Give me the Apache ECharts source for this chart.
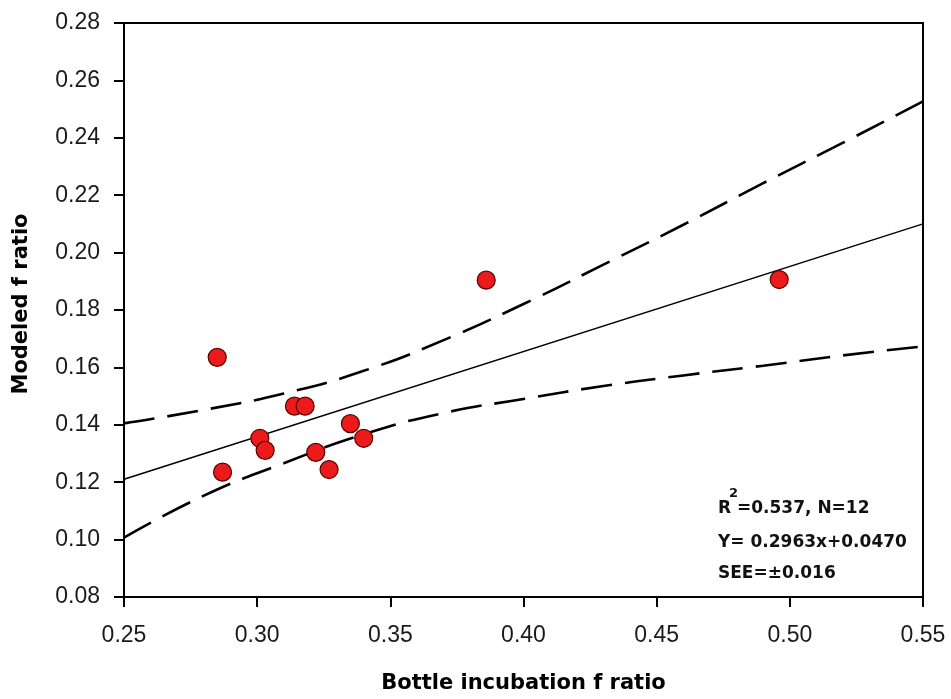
<!DOCTYPE html>
<html>
<head>
<meta charset="utf-8">
<script src="https://cdn.jsdelivr.net/npm/echarts@6/dist/echarts.min.js"></script>
<style>
html,body{margin:0;padding:0;background:#fff;}
#chart{width:951px;height:699px;}
</style>
</head>
<body>
<div id="chart"></div>
<script>
// Observed points
var obsX = [0.285, 0.287, 0.301, 0.303, 0.314, 0.318, 0.322, 0.327, 0.335, 0.340, 0.386, 0.496];
var modY = [0.1635, 0.1235, 0.1353, 0.1311, 0.1465, 0.1465, 0.1304, 0.1244, 0.1404, 0.1353, 0.1904, 0.1906];

// Regression line (read at the axis ends)
var regX = [0.25, 0.55];
var regY = [0.121, 0.210];

// Upper confidence band
var upX = [0.25, 0.28, 0.31, 0.34, 0.37, 0.40, 0.43, 0.46, 0.49, 0.52, 0.55];
var upY = [0.1405, 0.1452, 0.1509, 0.1588, 0.1695, 0.1821, 0.1958, 0.2097, 0.2242, 0.2383, 0.2527];

// Lower confidence band
var loX = [0.25, 0.28, 0.31, 0.34, 0.37, 0.40, 0.43, 0.46, 0.49, 0.52, 0.55];
var loY = [0.1007, 0.1153, 0.1266, 0.1367, 0.1441, 0.1490, 0.1535, 0.1572, 0.1606, 0.1642, 0.1673];

// Axis ticks
var xMin = 0.25, xMax = 0.55, xStep = 0.05;
var yMin = 0.08, yMax = 0.28, yStep = 0.02;

var annR = 'R';
var annSup = '2';
var annR2 = '=0.537, N=12';
var annEq = 'Y= 0.2963x+0.0470';
var annSee = 'SEE=\u00b10.016';

function pairs(xs, ys){ return xs.map(function(x,i){ return [x, ys[i]]; }); }

var chart = echarts.init(document.getElementById('chart'), null, {renderer:'canvas'});
var tickFont = {fontFamily:'Liberation Sans, Arial, sans-serif', fontSize:23, color:'#1a1a1a'};
var boldFont = 'DejaVu Sans, sans-serif';

chart.setOption({
  animation:false,
  backgroundColor:'#ffffff',
  grid:{left:124, right:28, top:23, bottom:100, show:true, borderColor:'#000', borderWidth:2, backgroundColor:'transparent'},
  xAxis:{
    type:'value', min:xMin, max:xMax, interval:xStep,
    name:'Bottle incubation f ratio', nameLocation:'middle', nameGap:76,
    nameTextStyle:{fontFamily:boldFont, fontWeight:'bold', fontSize:21, color:'#000'},
    axisLine:{show:true, onZero:false, lineStyle:{color:'#000', width:2}},
    axisTick:{show:true, inside:false, length:10, lineStyle:{color:'#000', width:2}},
    axisLabel:Object.assign({margin:27, formatter:function(v){return v.toFixed(2);}}, tickFont),
    splitLine:{show:false}
  },
  yAxis:{
    type:'value', min:yMin, max:yMax, interval:yStep,
    name:'Modeled f ratio', nameLocation:'middle', nameGap:92,
    nameTextStyle:{fontFamily:boldFont, fontWeight:'bold', fontSize:21, color:'#000', padding:[0,0,0,12]},
    axisLine:{show:true, onZero:false, lineStyle:{color:'#000', width:2}},
    axisTick:{show:true, inside:false, length:10, lineStyle:{color:'#000', width:2}},
    axisLabel:Object.assign({margin:24, formatter:function(v){return v.toFixed(2);}}, tickFont),
    splitLine:{show:false}
  },
  series:[
    {type:'line', data:pairs(upX, upY), smooth:true, showSymbol:false, symbol:'none',
     lineStyle:{color:'#000', width:2.6, type:[31,13]}, z:2},
    {type:'line', data:pairs(loX, loY), smooth:true, showSymbol:false, symbol:'none',
     lineStyle:{color:'#000', width:2.6, type:[31,13]}, z:2},
    {type:'line', data:pairs(regX, regY), showSymbol:false, symbol:'none',
     lineStyle:{color:'#000', width:1.5}, z:2},
    {type:'scatter', data:pairs(obsX, modY), symbol:'circle', symbolSize:18,
     itemStyle:{color:'#ec1b1b', borderColor:'#5a0000', borderWidth:1.2, opacity:1}, z:5}
  ],
  graphic:[
    {type:'text', left:718, top:500, style:{text:annR, font:'bold 17px DejaVu Sans', fill:'#111'}},
    {type:'text', left:729, top:487, style:{text:annSup, font:'bold 13px DejaVu Sans', fill:'#111'}},
    {type:'text', left:737, top:500, style:{text:annR2, font:'bold 17px DejaVu Sans', fill:'#111'}},
    {type:'text', left:718, top:534, style:{text:annEq, font:'bold 17px DejaVu Sans', fill:'#111'}},
    {type:'text', left:718, top:565, style:{text:annSee, font:'bold 17px DejaVu Sans', fill:'#111'}}
  ]
});
</script>
</body>
</html>
